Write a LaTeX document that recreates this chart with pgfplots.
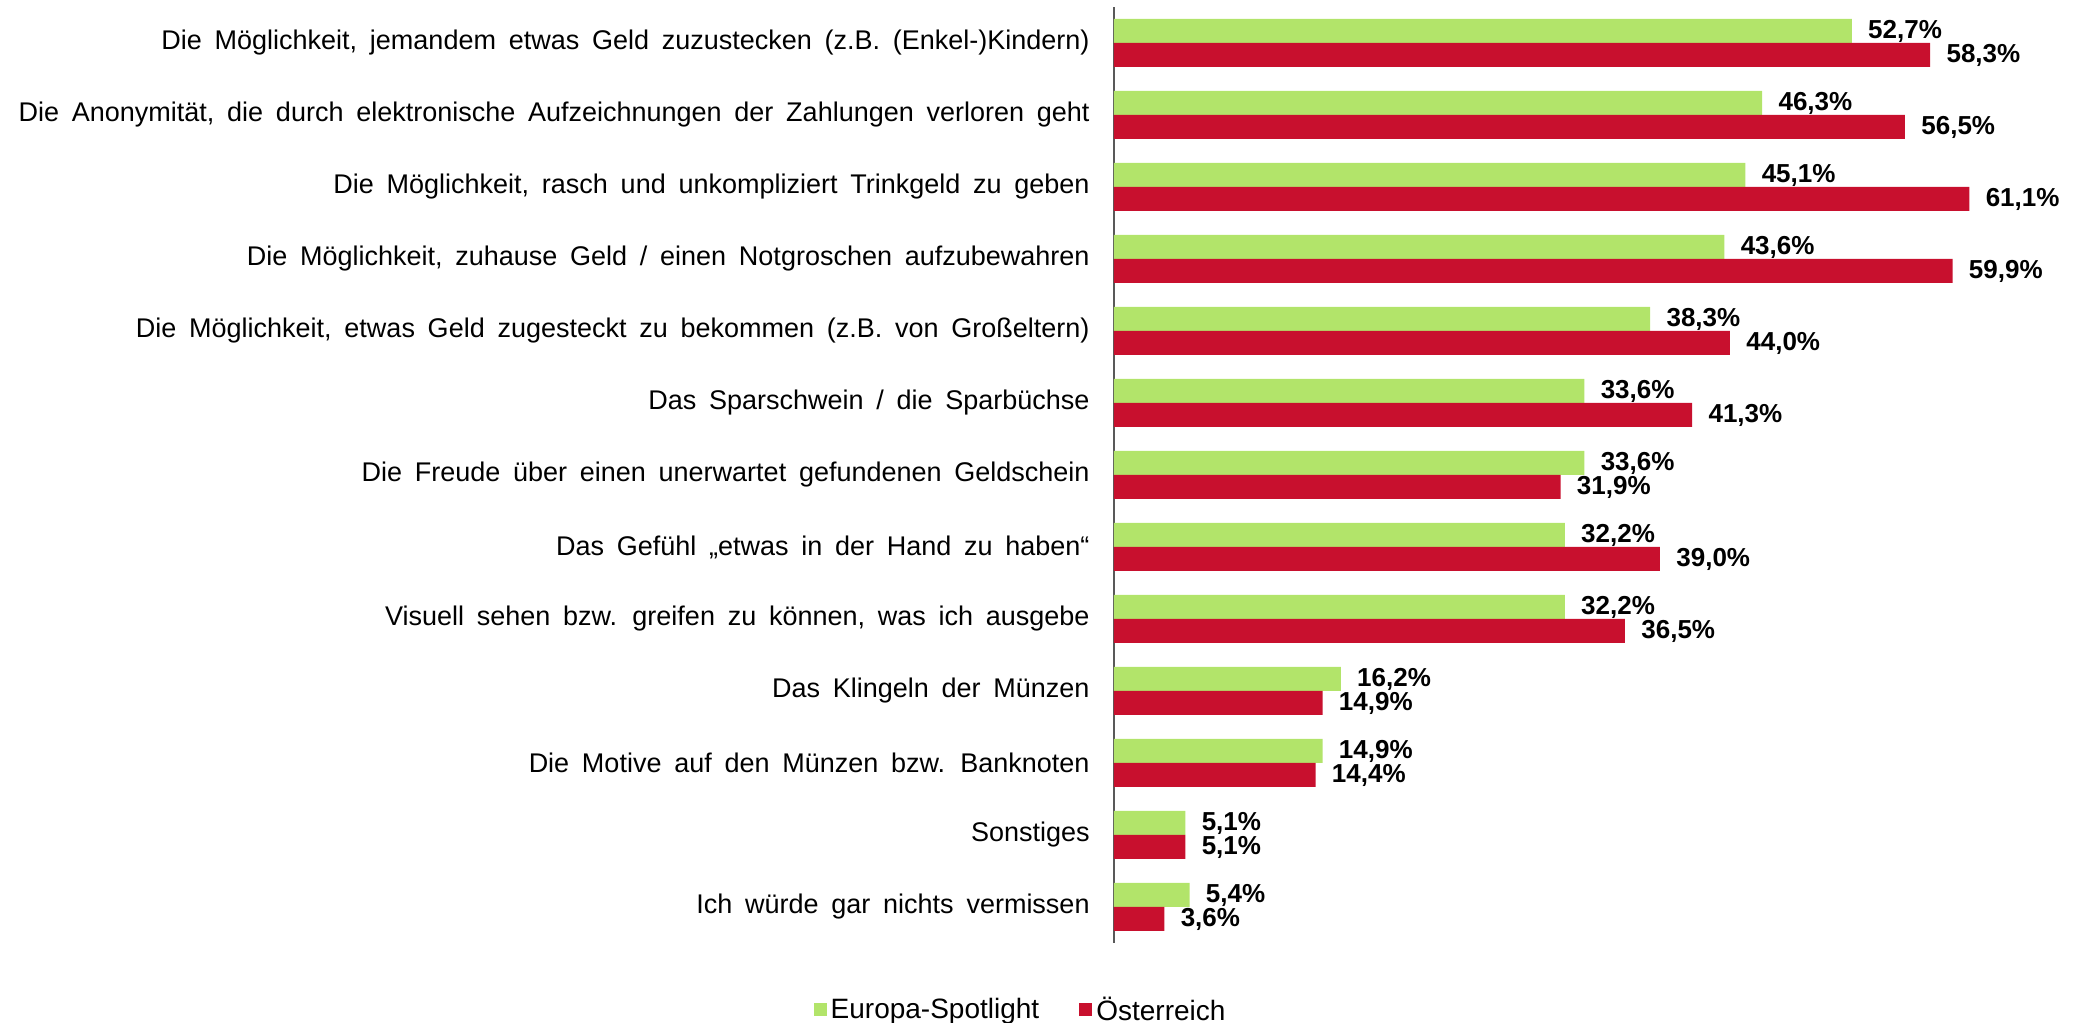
\documentclass[border=0pt]{standalone}
\usepackage{fontspec}
\setmainfont{Liberation Sans}
\newfontfamily\labelfont[WordSpace=1.7]{Liberation Sans}
\usepackage{pgfplots}
\pgfplotsset{compat=1.18}
\definecolor{cgreen}{RGB}{178,228,106}
\definecolor{cred}{RGB}{200,16,46}
\begin{document}
\begin{tikzpicture}
\begin{axis}[
  xbar, x=7pt, y=36pt, xmin=0, xmax=66, ymin=-0.5, ymax=12.5,
  bar width=12pt,
  clip=false,
  axis x line=none, axis y line*=left,
  y axis line style={draw=black!65, line width=0.75pt, -},
  ytick={0,...,12}, major tick length=0,
  yticklabel style={font=\labelfont\fontsize{13.5}{16}\selectfont, anchor=east, inner sep=0pt, xshift=-12pt},
  yticklabels={
    Ich würde gar nichts vermissen,
    Sonstiges,
    Die Motive auf den Münzen bzw. Banknoten,
    Das Klingeln der Münzen,
    {Visuell sehen bzw. greifen zu können, was ich ausgebe},
    Das Gefühl „etwas in der Hand zu haben“,
    Die Freude über einen unerwartet gefundenen Geldschein,
    Das Sparschwein / die Sparbüchse,
    {Die Möglichkeit, etwas Geld zugesteckt zu bekommen (z.B. von Großeltern)},
    {Die Möglichkeit, zuhause Geld / einen Notgroschen aufzubewahren},
    {Die Möglichkeit, rasch und unkompliziert Trinkgeld zu geben},
    {Die Anonymität, die durch elektronische Aufzeichnungen der Zahlungen verloren geht},
    {Die Möglichkeit, jemandem etwas Geld zuzustecken (z.B. (Enkel-)Kindern)}
  },
  /pgf/number format/assume math mode=true,
  nodes near coords={\pgfmathprintnumber[fixed,fixed zerofill,precision=1,use comma]{\pgfplotspointmeta}\%},
  nodes near coords align={horizontal},
  every node near coord/.append style={font=\fontsize{13}{15}\bfseries\selectfont, anchor=west, inner sep=0pt, xshift=8pt, text=black},
  legend columns=2,
  legend style={at={(axis cs:-6.6,-1.43)}, anchor=center, draw=none, fill=none,
    font=\fontsize{14}{16}\selectfont,
    /tikz/every even column/.append style={column sep=18pt},
    /tikz/every odd column/.append style={column sep=0pt}},
  legend image code/.code={\fill[#1,draw=none] (0pt,-3.25pt) rectangle (6.5pt,3.25pt);},
]
\addplot[fill=cgreen, draw=none, bar shift=6pt] coordinates {
(52.7,12) (46.3,11) (45.1,10) (43.6,9) (38.3,8) (33.6,7) (33.6,6) (32.2,5) (32.2,4) (16.2,3) (14.9,2) (5.1,1) (5.4,0)};
\addplot[fill=cred, draw=none, bar shift=-6pt] coordinates {
(58.3,12) (56.5,11) (61.1,10) (59.9,9) (44.0,8) (41.3,7) (31.9,6) (39.0,5) (36.5,4) (14.9,3) (14.4,2) (5.1,1) (3.6,0)};
\legend{Europa-Spotlight, Österreich}
\coordinate (BL) at (rel axis cs:0,0);
\end{axis}
\pgfresetboundingbox
\path (BL) ++(-557pt,-40pt) rectangle ++(1039.5pt,511.5pt);
\end{tikzpicture}
\end{document}
